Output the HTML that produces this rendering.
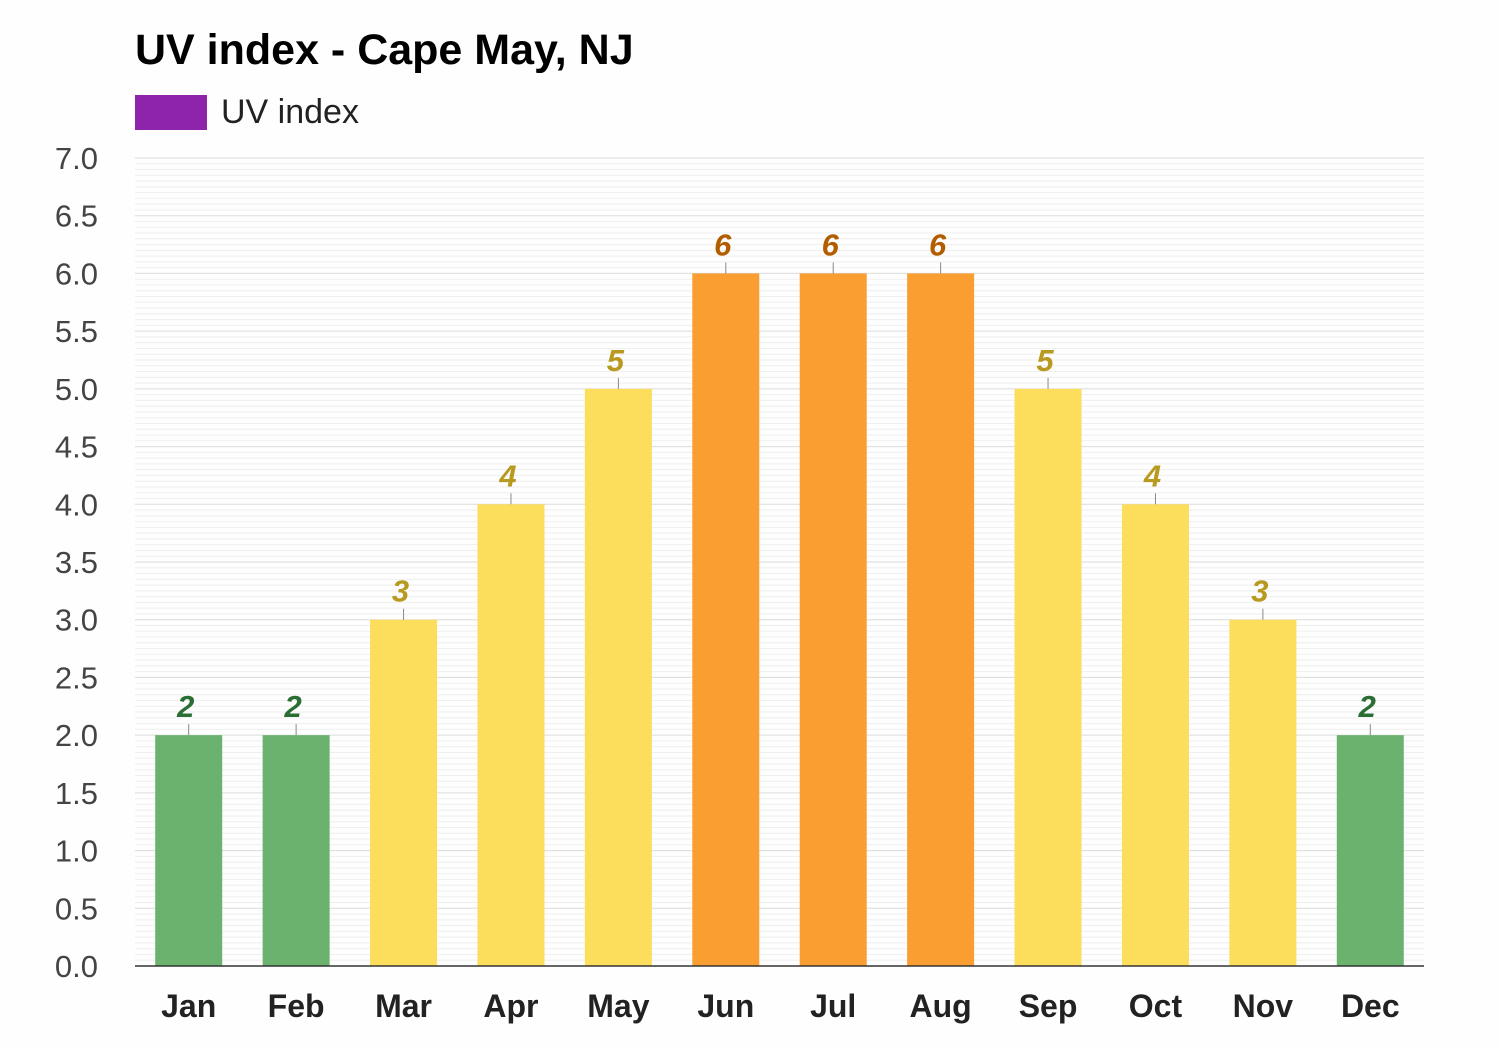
<!DOCTYPE html>
<html><head><meta charset="utf-8"><style>
html,body{margin:0;padding:0;background:#fdfefd;}
svg{display:block;font-family:"Liberation Sans",Arial,sans-serif;}
</style></head><body>
<svg id="chart" width="1500" height="1050" viewBox="0 0 1500 1050">
<rect x="0" y="0" width="1500" height="1050" fill="#fdfefd"/>
<text x="135" y="64" font-size="43" font-weight="bold" fill="#000">UV index - Cape May, NJ</text>
<g>
<rect x="135" y="95" width="72" height="35" fill="#8e24aa"/>
<text x="221" y="123" font-size="34" fill="#222">UV index</text>
</g>
<g id="grid"></g>
<g id="yaxis"></g>
<g id="bars"></g>
<g id="xaxis"></g>
</svg>
<script>
const months = ["Jan","Feb","Mar","Apr","May","Jun","Jul","Aug","Sep","Oct","Nov","Dec"];
const uvValues = [2,2,3,4,5,6,6,6,5,4,3,2];
const yTickLabels = ["0.0","0.5","1.0","1.5","2.0","2.5","3.0","3.5","4.0","4.5","5.0","5.5","6.0","6.5","7.0"];
const yMax = 7;

const NS = "http://www.w3.org/2000/svg";
const plotLeft = 135, plotRight = 1424, plotTop = 158, plotBottom = 966;
const band = (plotRight - plotLeft) / months.length;
const barW = 67;
function yScale(v){ return plotBottom - (v / yMax) * (plotBottom - plotTop); }
function xCenter(i){ return plotLeft + band * (i + 0.5); }
function mk(tag, attrs, parent){ const e = document.createElementNS(NS, tag); for (const k in attrs) e.setAttribute(k, attrs[k]); parent.appendChild(e); return e; }
function colors(v){
  if (v <= 2) return ["#6ab26e", "#2a6e33"];
  if (v <= 5) return ["#fcdd5c", "#b89a20"];
  return ["#fa9e32", "#b35d00"];
}

const grid = document.getElementById("grid");
for (let k = 0; k <= yMax * 20; k++) {
  const v = k / 20;
  const y = yScale(v);
  const major = k % 10 === 0;
  const l = mk("line", {x1: plotLeft, x2: plotRight, y1: y, y2: y, stroke: major ? "#dcdcdc" : "#efefef", "stroke-width": 1}, grid);
  
  
}

const yaxis = document.getElementById("yaxis");
yTickLabels.forEach((t) => {
  const v = parseFloat(t);
  const tx = mk("text", {x: 98, y: yScale(v) + 11, "font-size": 31, fill: "#444", "text-anchor": "end"}, yaxis);
  tx.textContent = t;
  
  
});

const bars = document.getElementById("bars");
uvValues.forEach((v, i) => {
  const c = colors(v);
  const cx = xCenter(i);
  const y = yScale(v);
  const r = mk("rect", {x: cx - barW / 2, y: y, width: barW, height: plotBottom - y, fill: c[0]}, bars);
  
  
  const ln = mk("line", {x1: cx, x2: cx, y1: y - 11, y2: y, stroke: "#888", "stroke-width": 1}, bars);
  
  
  const t = mk("text", {x: cx - 3, y: y - 18, "font-size": 31, "font-weight": "bold", "font-style": "italic", fill: c[1], "text-anchor": "middle"}, bars);
  t.textContent = String(v);
  
  
});

const xaxis = document.getElementById("xaxis");
const ax = mk("line", {x1: plotLeft, x2: plotRight, y1: plotBottom, y2: plotBottom, stroke: "#333", "stroke-width": 1.5}, xaxis);


months.forEach((m, i) => {
  const t = mk("text", {x: xCenter(i), y: 1017, "font-size": 32, "font-weight": "bold", fill: "#222", "text-anchor": "middle"}, xaxis);
  t.textContent = m;
  
  
});
</script>
</body></html>
